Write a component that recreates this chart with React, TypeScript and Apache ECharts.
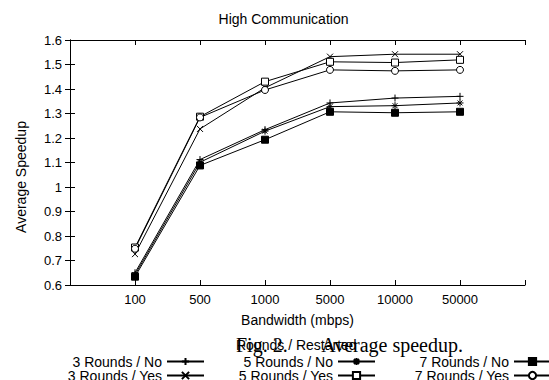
import React, { useEffect, useRef } from 'react';
import * as echarts from 'echarts';

const categories = ['100', '500', '1000', '5000', '10000', '50000'];
const seriesNames = [
  '3 Rounds / No',
  '3 Rounds / Yes',
  '5 Rounds / No',
  '5 Rounds / Yes',
  '7 Rounds / No',
  '7 Rounds / Yes',
];
const r3No = [0.65, 1.112, 1.234, 1.343, 1.363, 1.37];
const r3Yes = [0.726, 1.237, 1.405, 1.532, 1.542, 1.542];
const r5No = [0.642, 1.101, 1.228, 1.328, 1.332, 1.343];
const r5Yes = [0.753, 1.287, 1.43, 1.511, 1.508, 1.519];
const r7No = [0.634, 1.088, 1.193, 1.307, 1.303, 1.307];
const r7Yes = [0.748, 1.284, 1.396, 1.478, 1.474, 1.478];
const yMin = 0.6;
const yMax = 1.6;
const yStep = 0.1;

const FONT = '"Liberation Sans", Arial, Helvetica, sans-serif';
const SERIF = '"Liberation Serif", "Times New Roman", serif';

const symPlus = 'path://M0,5L10,5M5,0L5,10';
const symCross = 'path://M0,0L10,10M10,0L0,10';
const symStar = 'path://M0,5L10,5M5,0L5,10M1.5,1.5L8.5,8.5M8.5,1.5L1.5,8.5';

export default function App() {
  const ref = useRef<HTMLDivElement>(null);
  useEffect(() => {
    document.body.style.margin = '0';
    document.body.style.overflow = 'hidden';
    if (!ref.current) return;
    const chart = echarts.init(ref.current, null, { renderer: 'svg' });
    const values = [r3No, r3Yes, r5No, r5Yes, r7No, r7Yes];
    const symbols = [symPlus, symCross, symStar, 'rect', 'rect', 'circle'];
    const sizes = [7, 6, 7, 7, 7, 7];
    const fills = ['#000', '#000', '#000', '#fff', '#000', '#fff'];
    const series = seriesNames.map((name, k) => ({
      name,
      type: 'line',
      xAxisIndex: 0,
      yAxisIndex: 0,
      data: values[k].map((v, i) => [i + 1, v]),
      symbol: symbols[k],
      symbolSize: sizes[k],
      showAllSymbol: true,
      lineStyle: { color: '#000', width: 1 },
      itemStyle: { color: fills[k], borderColor: '#000', borderWidth: 1 },
      emphasis: { disabled: true },
    }));
    const legendBase = {
      orient: 'vertical',
      align: 'right',
      top: 354.5,
      height: 40,
      padding: 0,
      itemGap: 0,
      itemWidth: 37,
      itemHeight: 9,
      selectedMode: false,
      textStyle: { fontFamily: FONT, fontSize: 14, color: '#000', lineHeight: 13 },
    };
    const tickAxisX = {
      type: 'value',
      min: 0,
      max: categories.length + 1,
      interval: 1,
      splitLine: { show: false },
      axisLine: { show: true, lineStyle: { color: '#000', width: 1 } },
      axisTick: { show: true, inside: true, length: 5, lineStyle: { color: '#000' } },
    };
    const tickAxisY = {
      type: 'value',
      min: yMin,
      max: yMax,
      interval: yStep,
      splitLine: { show: false },
      axisLine: { show: true, lineStyle: { color: '#000', width: 1 } },
      axisTick: { show: true, inside: true, length: 5, lineStyle: { color: '#000' } },
    };
    chart.setOption({
      animation: false,
      backgroundColor: '#fff',
      grid: { left: 70, right: 24, top: 40, bottom: 95, containLabel: false },
      xAxis: [
        {
          ...tickAxisX,
          position: 'bottom',
          name: 'Bandwidth (mbps)',
          nameLocation: 'middle',
          nameGap: 28,
          nameTextStyle: { fontFamily: FONT, fontSize: 14, color: '#000' },
          axisLabel: {
            fontFamily: FONT,
            fontSize: 13,
            color: '#000',
            margin: 8,
            formatter: (v: number) => (v >= 1 && v <= categories.length ? categories[v - 1] : ''),
          },
        },
        { ...tickAxisX, position: 'top', axisLabel: { show: false } },
      ],
      yAxis: [
        {
          ...tickAxisY,
          position: 'left',
          axisLabel: {
            fontFamily: FONT,
            fontSize: 13,
            color: '#000',
            margin: 8,
            formatter: (v: number) => String(parseFloat(v.toFixed(1))),
          },
        },
        { ...tickAxisY, position: 'right', axisLabel: { show: false } },
      ],
      legend: [
        { ...legendBase, right: 344, data: [seriesNames[0], seriesNames[1]] },
        { ...legendBase, right: 173, data: [seriesNames[2], seriesNames[3]] },
        { ...legendBase, right: -3, data: [seriesNames[4], seriesNames[5]] },
      ],
      graphic: [
        {
          type: 'text',
          x: 283.5,
          y: 19,
          style: { text: 'High Communication', fontFamily: FONT, fontSize: 14, fill: '#000', align: 'center', verticalAlign: 'middle' },
        },
        {
          type: 'text',
          x: 21,
          y: 177,
          rotation: Math.PI / 2,
          style: { text: 'Average Speedup', fontFamily: FONT, fontSize: 14, fill: '#000', align: 'center', verticalAlign: 'middle' },
        },
        {
          type: 'text',
          x: 236,
          y: 345,
          style: { text: 'Rounds / Restarted', fontFamily: FONT, fontSize: 14, fill: '#000', align: 'left', verticalAlign: 'middle' },
        },
        {
          type: 'text',
          x: 236,
          y: 345,
          style: { text: 'Fig. 2.', fontFamily: SERIF, fontSize: 20, fill: '#000', align: 'left', verticalAlign: 'middle' },
        },
        {
          type: 'text',
          x: 463,
          y: 345,
          style: { text: 'Average speedup.', fontFamily: SERIF, fontSize: 20, fill: '#000', align: 'right', verticalAlign: 'middle' },
        },
      ],
      series,
    });
    return () => chart.dispose();
  }, []);
  return <div ref={ref} style={{ width: 549, height: 380 }} />;
}
